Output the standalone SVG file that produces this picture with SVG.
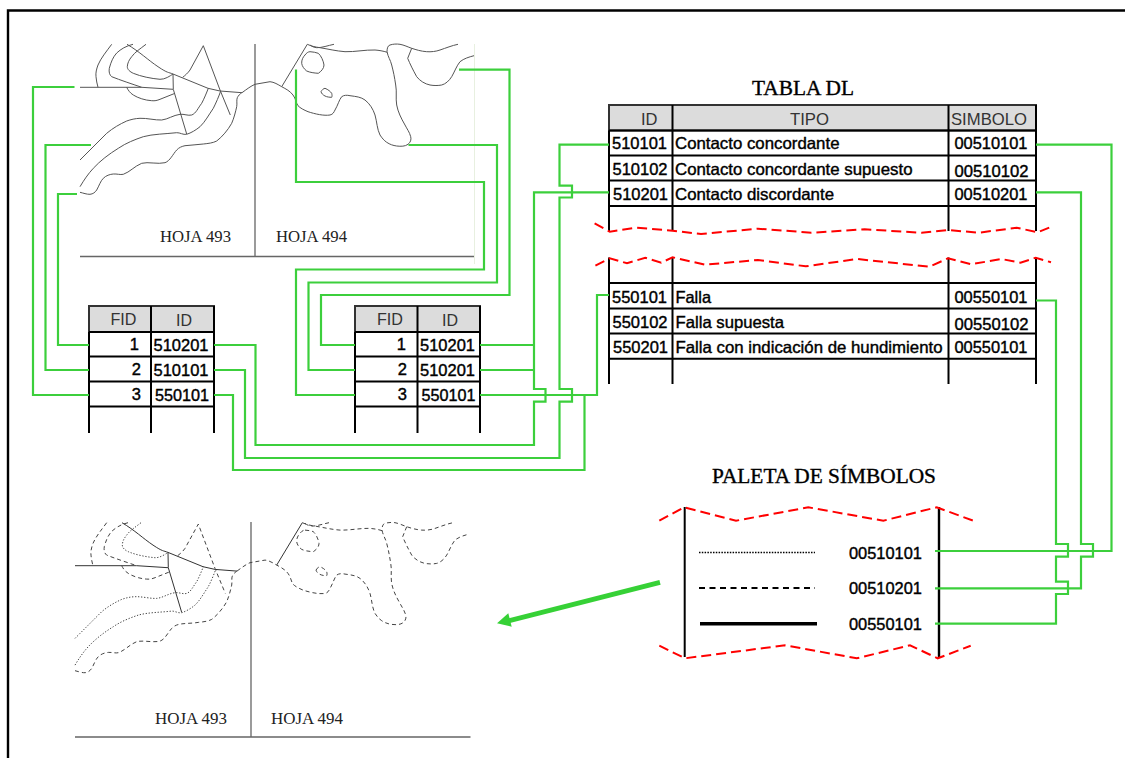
<svg xmlns="http://www.w3.org/2000/svg" width="1125" height="758" viewBox="0 0 1125 758">
<style>
text{font-family:"Liberation Sans",Arial,sans-serif;font-size:16.500px;fill:#000;stroke:#000;stroke-width:.4}
.h{fill:#333;stroke:none}
.t{font-family:"Liberation Serif","Times New Roman",serif;stroke-width:.35}
.hj{font-family:"Liberation Serif","Times New Roman",serif;fill:#222;stroke:none}
.grid{fill:none;stroke:#000;stroke-width:2}
.hd{fill:#dcdcdc;stroke:#333;stroke-width:2}
.g{fill:none;stroke:#3ccf3c;stroke-width:2.200}
.r{fill:none;stroke:#f00;stroke-width:2;stroke-dasharray:10 5}
.m{fill:none;stroke:#555;stroke-width:1}
.ax{fill:none;stroke:#666;stroke-width:1.300}
.sol{fill:none;stroke:#333;stroke-width:1}
.das{fill:none;stroke:#444;stroke-width:1;stroke-dasharray:4 3}
.dot{fill:none;stroke:#444;stroke-width:1;stroke-dasharray:1.300 1.700}
</style>
<defs>
<path id="a" d="M80 87.300L141.700 87.300L173 89.300"/>
<path id="tl" d="M127 44.300C140 52 148 60 158 66.700S168 72 173 74L208 88.300L220 91L242 92.700"/>
<path id="tr" d="M242 92.700C247 89 251 86 255 84.300L270 81.700C274 82 278 84.500 281.700 86.700C286 89 290 91 293 95C296 99 296 103 298 105.700C300 108 304 110 308 111.700C315 114 324 116 330 115C333 114.500 334 112 335 110C338 105 339 100 341.700 96.700C344 95 347 95 350 95.700C356 96.500 361 97 365 100C370 104 373 109 375 115C377 122 377 129 380 135C382 138 384 140.500 386.700 142.300C390 144.500 393 145.500 396.700 146C401 146.500 405 146.500 408 144.300C410.500 142.500 411.500 139.500 410.700 136.700C409.500 132 407 129 405 125C401 118 398 112 396.700 105C395.500 98 397 92 395.700 85C394.500 77 393.500 72 391.700 65C390.500 60 388 57 387 51.700C387 48 388 45.500 390 45C393 44 396.500 43.800 400 44.300C404 45 408 47 411.700 48.300C416 49.700 421 51.300 426.700 51.700C431 52 436 51.500 440 50C446 48 452 45.500 458 44.300"/>
<path id="c1" d="M111.700 44.300C106 52 101 58 98 65C96.500 69 95.500 73 96 76.700C96.300 80 97 84 98 87.300"/>
<path id="c2" d="M133 44.300C126 46 121 49 116.700 53C113 57 111 62 109.300 68.300C108.700 72 109.500 75 111.700 76.700C120 80 132 84 141.700 87.300"/>
<path id="c3" d="M146 44.300C140 49 135 52 131.700 56.700C129 60 127.500 63 127.300 66.700C127.300 69.500 130 71.800 133.300 73.300C141 76.500 151 78.500 160 79.300C165 79.500 170 76 173 74"/>
<path id="low" d="M126.700 87.300C128 90 130 93 133.300 95C138 98 145 100.300 151.700 100.700C155 101 157 100.500 160 99.300L175 93.300"/>
<path id="d1" d="M80 160L106.700 133.300C113 128 120 124 126.700 121C131 119.500 135 118.500 140 118.300C147 118 155 120.300 161.700 120C168 119.300 173 115.300 180 114.300C184 113.800 188 116 191.700 115C196 113.500 198 108 201.700 103.300C204 99 206.500 93 208.300 88.300"/>
<path id="d2" d="M80 186.700C84 180 88 174 93.300 168.300C100 161 109 154 118.300 148.300C126 143 135 139.500 143.300 136.700C153 134 165 134 176.700 132.700C180 132.500 183 135 186.700 134.300C191 133 196 130 200 126.700C205 122 209 114.500 213.300 108.300C216 103 219 96 220.700 91"/>
<path id="d3" d="M80 192.300C83 193 87 194.500 90 194.300C93 194 95 192.500 96.700 190C99 186 100.500 181 103.300 178.300C106 175.500 110 174.300 113.300 174C117 173.700 120 175 123.300 174.300C130 172 134 166.500 141.700 163.300C148 161.500 158 164.500 165 162.700C170 161 173 154 176.700 150C179 147.500 182 146.300 185 145.700C191 144.800 197 145 203.300 144C208 143.500 213 143 216.700 141C222 137 228 130 231.700 123.300C234 118 235.500 112 236.700 106.700C237.300 103 236.300 100.500 237.300 97.700C238.300 95.500 240 94 241.700 92.700"/>
<path id="f" d="M173 74L173.300 89.300L186.700 134"/>
<path id="pk" d="M182.700 77.300C185 75.500 188 73 190 70L203.300 45.700L220 90L230.300 115"/>
<path id="fr" d="M281.700 86.700L307.300 44.300"/>
<path id="ln" d="M307.300 44.300C311 46 315 47 320 47.700C328 49 336 51 345 51.700C355 52 365 49.700 375 50C379 50.300 383 51 387.300 52.300"/>
<path id="top" d="M310 45C312 46.500 314 47.500 316.700 47.700C322 47.800 328 45.500 334 44.300"/>
<path id="b1" d="M310 51.700C313 52 316 52.300 318.300 53.300C321 55.500 323.500 61 324 65C324 68.500 321 71.500 318.300 73.300C314 73 310 72.500 306.700 71C304 69 302 66 301.700 63.300C301.500 60 303 57 305 55C306.500 53 308 51.800 310 51.700Z"/>
<path id="b2" d="M321 91.700C322 89.800 323.500 88.500 325 88.300C328 89.500 330.500 91.500 331.700 93.300C332 94.700 332.300 96 331.700 97.300C329.500 97.300 327 97 325 96C323 95 321.500 93.500 321 91.700Z"/>
<path id="ri" d="M411.700 48.300L407.700 58.300C410 64 413 70 416.700 76.700C420 81 425 84 430 85C434 85.700 438 85.700 441.700 85C445.500 84 449 81 451.700 76.700C454.500 72 456.500 66 460 61.700C464 58.500 469 57 474 55.700"/>
</defs>
<path d="M8 758V10.500H1125" fill="none" stroke="#000" stroke-width="2.400"/>
<g id="mapa-superior">
<path class="ax" d="M255 44V257M80 256.500H474"/>
<path d="M474.500 44V264" fill="none" stroke="#e8f0e0" stroke-width="1"/>
<g class="m">
<use href="#a"/><use href="#tl"/><use href="#tr"/><use href="#c1"/><use href="#c2"/><use href="#c3"/><use href="#low"/><use href="#d1"/><use href="#d2"/><use href="#d3"/><use href="#f"/><use href="#pk"/><use href="#fr"/><use href="#ln"/><use href="#top"/><use href="#b1"/><use href="#b2"/><use href="#ri"/>
</g>
<text class="hj" x="160" y="242" textLength="71" lengthAdjust="spacingAndGlyphs">HOJA 493</text>
<text class="hj" x="276" y="242" textLength="71" lengthAdjust="spacingAndGlyphs">HOJA 494</text>
</g>
<g id="mapa-inferior">
<path class="ax" d="M251 522V737M75 737H470.500"/>
<g transform="translate(-5 478.400)">
<g class="sol"><use href="#a"/><use href="#tl"/><use href="#f"/><use href="#fr"/></g>
<g class="das"><use href="#tr"/><use href="#c1"/><use href="#c2"/><use href="#low"/><use href="#d3"/><use href="#pk"/><use href="#ln"/><use href="#top"/><use href="#b1"/><use href="#b2"/><use href="#ri"/></g>
<g class="dot"><use href="#c3"/><use href="#d1"/><use href="#d2"/></g>
</g>
<text class="hj" x="155" y="724" textLength="72" lengthAdjust="spacingAndGlyphs">HOJA 493</text>
<text class="hj" x="271" y="724" textLength="72" lengthAdjust="spacingAndGlyphs">HOJA 494</text>
</g>
<g id="tabla-fid-1">
<rect class="hd" x="89" y="306" width="125" height="26"/>
<path class="grid" d="M89 332V433M151 306V433M214 306V433M89 332H214M89 356.500H214M89 381.500H214M89 406.500H214"/>
<text class="h" x="110.500" y="325" textLength="26" lengthAdjust="spacingAndGlyphs">FID</text>
<text class="h" x="176" y="325.500" textLength="16" lengthAdjust="spacingAndGlyphs">ID</text>
<text x="139" y="350" text-anchor="end">1</text>
<text x="141" y="375" text-anchor="end">2</text>
<text x="141" y="400" text-anchor="end">3</text>
<text x="153.500" y="351" textLength="55" lengthAdjust="spacingAndGlyphs">510201</text>
<text x="153.500" y="376" textLength="55" lengthAdjust="spacingAndGlyphs">510101</text>
<text x="155" y="401" textLength="54" lengthAdjust="spacingAndGlyphs">550101</text>
</g>
<g id="tabla-fid-2">
<rect class="hd" x="355" y="306" width="125" height="26"/>
<path class="grid" d="M355 332V433M417.500 306V433M480 306V433M355 332H480M355 356.500H480M355 381.500H480M355 406.500H480"/>
<text class="h" x="377" y="325" textLength="26" lengthAdjust="spacingAndGlyphs">FID</text>
<text class="h" x="442" y="325.500" textLength="16" lengthAdjust="spacingAndGlyphs">ID</text>
<text x="406" y="350" text-anchor="end">1</text>
<text x="407" y="375" text-anchor="end">2</text>
<text x="407" y="400" text-anchor="end">3</text>
<text x="420" y="351" textLength="55" lengthAdjust="spacingAndGlyphs">510201</text>
<text x="420" y="376" textLength="55" lengthAdjust="spacingAndGlyphs">510201</text>
<text x="421.500" y="401" textLength="54" lengthAdjust="spacingAndGlyphs">550101</text>
</g>
<g id="tabla-dl">
<text class="t" x="752" y="95" style="font-size:20px" textLength="102" lengthAdjust="spacingAndGlyphs">TABLA DL</text>
<rect class="hd" x="609" y="105" width="427" height="25.500"/>
<path class="grid" d="M609 130.500V231M672.500 105V231M948.500 105V231M1036 105V231M609 130.500H1036M609 155.500H1036M609 180.500H1036M609 206H1036M609 257.500V384M672.500 257.500V384M948.500 257.500V384M1036 257.500V384M609 283H1036M609 308.500H1036M609 333.500H1036M609 358.700H1036"/>
<text class="h" x="641" y="125" textLength="16.500" lengthAdjust="spacingAndGlyphs">ID</text>
<text class="h" x="790" y="125" textLength="39" lengthAdjust="spacingAndGlyphs">TIPO</text>
<text class="h" x="951" y="125" textLength="76" lengthAdjust="spacingAndGlyphs">SIMBOLO</text>
<text x="612" y="149" textLength="55" lengthAdjust="spacingAndGlyphs">510101</text>
<text x="612.500" y="175" textLength="55" lengthAdjust="spacingAndGlyphs">510102</text>
<text x="613" y="200" textLength="55" lengthAdjust="spacingAndGlyphs">510201</text>
<text x="612" y="302.500" textLength="55" lengthAdjust="spacingAndGlyphs">550101</text>
<text x="612.500" y="328" textLength="55" lengthAdjust="spacingAndGlyphs">550102</text>
<text x="613" y="352.700" textLength="55" lengthAdjust="spacingAndGlyphs">550201</text>
<text x="675" y="149" textLength="164.500" lengthAdjust="spacingAndGlyphs">Contacto concordante</text>
<text x="675" y="175" textLength="237.500" lengthAdjust="spacingAndGlyphs">Contacto concordante supuesto</text>
<text x="675" y="200" textLength="159" lengthAdjust="spacingAndGlyphs">Contacto discordante</text>
<text x="675.500" y="302.500" textLength="35.500" lengthAdjust="spacingAndGlyphs">Falla</text>
<text x="675.500" y="328" textLength="108.500" lengthAdjust="spacingAndGlyphs">Falla supuesta</text>
<text x="675.500" y="352.700" textLength="267" lengthAdjust="spacingAndGlyphs">Falla con indicación de hundimiento</text>
<text x="954.500" y="149" textLength="73" lengthAdjust="spacingAndGlyphs">00510101</text>
<text x="954.500" y="177" textLength="74" lengthAdjust="spacingAndGlyphs">00510102</text>
<text x="954.500" y="200" textLength="73" lengthAdjust="spacingAndGlyphs">00510201</text>
<text x="954.500" y="302.500" textLength="73" lengthAdjust="spacingAndGlyphs">00550101</text>
<text x="954.500" y="330" textLength="74" lengthAdjust="spacingAndGlyphs">00550102</text>
<text x="954.500" y="352.700" textLength="73" lengthAdjust="spacingAndGlyphs">00550101</text>
<polyline class="r" points="594.600,223.300 609.800,231.700 636.500,227.700 672.600,230.700 701,234 758,228.700 811.400,232.700 864.600,229.300 921.600,232.700 948,230 978.700,232.700 1016.700,227.700 1037.600,232.300 1050,227.300"/>
<polyline class="r" points="595.400,265.700 609.800,258.300 627,263.300 645.200,257.700 661.200,262.700 672.600,257.300 705,264.700 758,260 805.700,266.300 857,259 929.200,266.700 944.500,260 948,258.300 971,264.300 1001.500,259 1020.500,262.700 1035.700,257.700 1051,262.300"/>
</g>
<g id="paleta">
<text class="t" x="712" y="483" style="font-size:20px" textLength="224" lengthAdjust="spacingAndGlyphs">PALETA DE SÍMBOLOS</text>
<path d="M684.700 507V657" fill="none" stroke="#000" stroke-width="2"/>
<path d="M939 507V658" fill="none" stroke="#000" stroke-width="2.400"/>
<polyline class="r" points="659.300,520.700 684,507.300 736,520.700 808.300,507.300 883.300,520.700 936.700,507.300 973.300,520.700"/>
<polyline class="r" points="659.300,645.700 685,658.300 785,645.300 856.700,658.300 910,645.300 937.700,658.300 970.700,645.700"/>
<path d="M699 552.500H815" fill="none" stroke="#000" stroke-width="1.500" stroke-dasharray="1.500 1.300"/>
<path d="M699 588H815" fill="none" stroke="#000" stroke-width="1.800" stroke-dasharray="6 4.500"/>
<path d="M700 623.700H817" fill="none" stroke="#000" stroke-width="3.400"/>
<text x="849" y="559" textLength="73" lengthAdjust="spacingAndGlyphs">00510101</text>
<text x="849" y="594" textLength="73" lengthAdjust="spacingAndGlyphs">00510201</text>
<text x="849" y="630" textLength="73" lengthAdjust="spacingAndGlyphs">00550101</text>
</g>
<g id="conectores">
<path class="g" d="M74.500 87H33V395H89"/>
<path class="g" d="M91 145H45.500V370H89"/>
<path class="g" d="M77 194H58V345H89"/>
<path class="g" d="M296 69.500V182H484V269.500H296V395H355"/>
<path class="g" d="M408.500 145H497V282.500H308.500V370H355"/>
<path class="g" d="M459 69.700H509.500V295H321V345H355"/>
<path class="g" d="M609 192.300H534V389H545.500V401.700H534V445H255.500V345H214"/>
<path class="g" d="M480 345H534M480 370H534"/>
<path class="g" d="M609 144.700H559.500V185.700H572V197.500H559.500V389H572V401.700H559.500V458H245V370H214"/>
<path class="g" d="M214 395H233V470H584.500V395"/>
<path class="g" d="M480 395H597V295H609"/>
<path class="g" d="M1036 144.700H1111.500V551H935"/>
<path class="g" d="M1036 192.300H1081V544H1093V556.700H1081V588.300H935"/>
<path class="g" d="M1036 300.500H1056V544H1068V556.700H1056V581.700H1068V594H1056V623.700H935"/>
<path d="M660 582.300L506 621.500" fill="none" stroke="#36d136" stroke-width="5"/>
<polygon points="497,623.300 508.300,613.300 511.700,626.700" fill="#36d136"/>
</g>
</svg>
